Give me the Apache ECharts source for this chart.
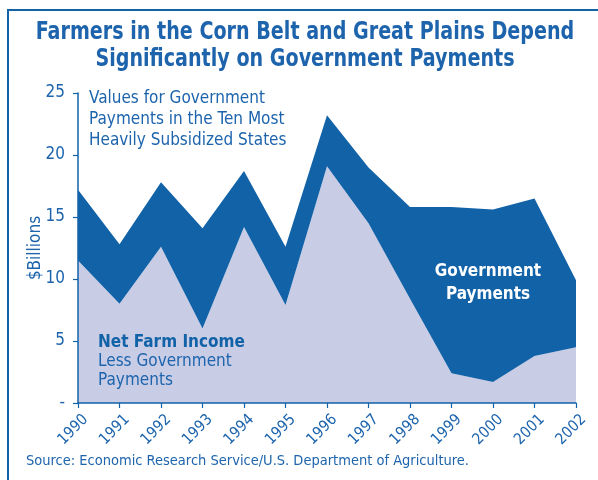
<!DOCTYPE html>
<html>
<head>
<meta charset="utf-8">
<script src="https://cdn.jsdelivr.net/npm/echarts@6/dist/echarts.min.js"></script>
<style>
  html, body { margin: 0; padding: 0; background: #fff; }
  #chart { width: 598px; height: 480px; }
</style>
</head>
<body>
<div id="chart"></div>
<script>
// Years on the horizontal axis
const years = ['1990','1991','1992','1993','1994','1995','1996','1997','1998','1999','2000','2001','2002'];
// Net farm income less government payments, $ billions
const netIncomeLessPayments = [11.5, 8.0, 12.6, 6.0, 14.2, 7.9, 19.1, 14.5, 8.4, 2.4, 1.7, 3.8, 4.5];
// Government payments, $ billions (stacked on top)
const governmentPayments = [5.7, 4.8, 5.2, 8.1, 4.5, 4.7, 4.1, 4.5, 7.4, 13.4, 13.9, 12.7, 5.4];
// Value-axis tick labels
const yTickLabels = { 0: '-', 5: '5', 10: '10', 15: '15', 20: '20', 25: '25' };

const BLUE = '#1262a8';
const TEXT = '#1d64ad';
const LIGHT = '#c8cce5';
const FONT = '"Liberation Sans Narrow", "DejaVu Sans Condensed", "Arial Narrow", sans-serif';

const chart = echarts.init(document.getElementById('chart'), null, { renderer: 'canvas' });

chart.setOption({
  animation: false,
  backgroundColor: '#fff',
  grid: { left: 78, right: 22, top: 93, bottom: 77, containLabel: false },
  xAxis: {
    type: 'category',
    data: years,
    boundaryGap: false,
    z: 5,
    axisLine: { lineStyle: { color: BLUE, width: 1.5 } },
    axisTick: { show: true, alignWithLabel: true, length: 5, lineStyle: { color: BLUE, width: 1.2 } },
    axisLabel: {
      rotate: 45, color: TEXT, fontFamily: FONT, fontSize: 15.5, margin: 22, interval: 0,
      padding: [0, -11, 0, 0]
    },
    splitLine: { show: false }
  },
  yAxis: {
    type: 'value',
    min: 0, max: 25, interval: 5,
    z: 5,
    name: '$Billions',
    nameLocation: 'middle',
    nameGap: 34,
    nameMoveOverlap: false,
    nameRotate: 90,
    nameTextStyle: { color: TEXT, fontFamily: FONT, fontSize: 17 },
    axisLine: { show: true, lineStyle: { color: BLUE, width: 1.5 } },
    axisTick: { show: true, length: 5, lineStyle: { color: BLUE, width: 1.2 } },
    axisLabel: {
      color: TEXT, fontFamily: FONT, fontSize: 17, margin: 13,
      formatter: v => yTickLabels[v]
    },
    splitLine: { show: false }
  },
  series: [
    {
      name: 'Net Farm Income Less Government Payments',
      type: 'line',
      stack: 'total',
      data: netIncomeLessPayments,
      symbol: 'none',
      lineStyle: { width: 0 },
      areaStyle: { color: LIGHT, opacity: 1 }
    },
    {
      name: 'Government Payments',
      type: 'line',
      stack: 'total',
      data: governmentPayments,
      symbol: 'none',
      lineStyle: { width: 0 },
      areaStyle: { color: BLUE, opacity: 1 }
    }
  ],
  graphic: [
    // frame lines along top and left
    { type: 'rect', z: 100, shape: { x: 7, y: 9, width: 591, height: 2 }, style: { fill: BLUE }, silent: true },
    { type: 'rect', z: 100, shape: { x: 7, y: 9, width: 2, height: 471 }, style: { fill: BLUE }, silent: true },
    {
      type: 'text', z: 100, x: 305, y: 19, scaleX: 0.85,
      style: {
        text: 'Farmers in the Corn Belt and Great Plains Depend\nSignificantly on Government Payments',
        fill: TEXT, font: 'bold 25px ' + FONT, textAlign: 'center', lineHeight: 27
      }
    },
    {
      type: 'text', z: 100, left: 89, top: 88,
      style: {
        text: 'Values for Government\nPayments in the Ten Most\nHeavily Subsidized States',
        fill: TEXT, font: '17px ' + FONT, lineHeight: 21
      }
    },
    {
      type: 'text', z: 100, left: 98, top: 334,
      style: {
        rich: {
          b: { fill: BLUE, font: 'bold 17px ' + FONT, lineHeight: 19 },
          r: { fill: TEXT, font: '17px ' + FONT, lineHeight: 19 }
        },
        text: '{b|Net Farm Income}\n{r|Less Government}\n{r|Payments}'
      }
    },
    {
      type: 'text', z: 100, x: 488, y: 260,
      style: {
        text: 'Government\nPayments',
        fill: '#fff', font: 'bold 17px ' + FONT, textAlign: 'center', lineHeight: 23
      }
    },
    {
      type: 'text', z: 100, left: 26, top: 454,
      style: {
        text: 'Source: Economic Research Service/U.S. Department of Agriculture.',
        fill: TEXT, font: '14.5px ' + FONT
      }
    }
  ]
});
</script>
</body>
</html>
